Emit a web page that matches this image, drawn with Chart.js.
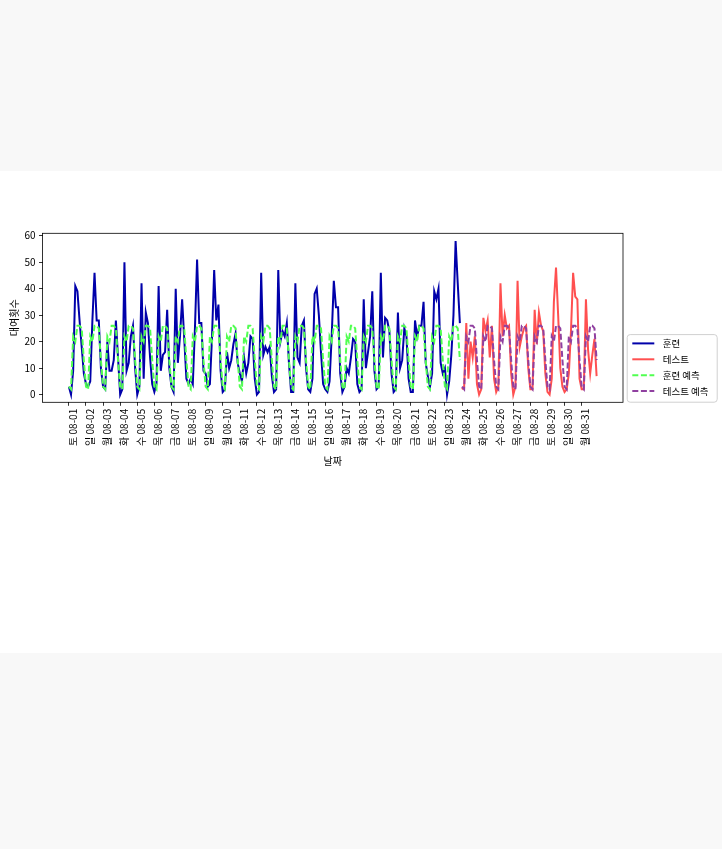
<!DOCTYPE html>
<html>
<head>
<meta charset="utf-8">
<script src="https://cdn.jsdelivr.net/npm/chart.js@4.4.1/dist/chart.umd.min.js"></script>
<style>
  html, body { margin: 0; padding: 0; background: #f8f8f8; }
  #band { position: absolute; left: 0; top: 171px; width: 722px; height: 482px; background: #fff; }
  canvas { display: block; }
</style>
</head>
<body>
<div id="band"><canvas id="chart" width="722" height="482"></canvas></div>
<script>
// 3-hourly rentals, August 2015 (8 samples per day)
const tickLabels = [
    "토 08-01", "일 08-02", "월 08-03", "화 08-04", "수 08-05", "목 08-06", "금 08-07",
    "토 08-08", "일 08-09", "월 08-10", "화 08-11", "수 08-12", "목 08-13", "금 08-14",
    "토 08-15", "일 08-16", "월 08-17", "화 08-18", "수 08-19", "목 08-20", "금 08-21",
    "토 08-22", "일 08-23", "월 08-24", "화 08-25", "수 08-26", "목 08-27", "금 08-28",
    "토 08-29", "일 08-30", "월 08-31"
];

const trainCounts = [
    3, 0, 9, 41, 39, 28, 18, 8,
    4, 3, 5, 28, 46, 28, 28, 10,
    3, 2, 20, 9, 9, 13, 28, 14,
    0, 2, 50, 9, 12, 22, 26, 10,
    0, 3, 42, 6, 31, 27, 14, 4,
    1, 4, 41, 9, 15, 16, 32, 10,
    3, 1, 40, 12, 22, 36, 21, 6,
    4, 6, 4, 25, 51, 27, 27, 9,
    8, 3, 4, 22, 47, 28, 34, 9,
    1, 2, 16, 10, 13, 19, 23, 12,
    8, 5, 14, 8, 12, 22, 21, 6,
    0, 1, 46, 15, 18, 16, 18, 7,
    1, 2, 47, 20, 24, 22, 27, 12,
    1, 1, 42, 14, 12, 26, 28, 10,
    2, 1, 6, 38, 40, 30, 16, 4,
    2, 1, 5, 22, 43, 33, 33, 8,
    1, 3, 10, 8, 14, 21, 20, 4,
    1, 2, 36, 10, 16, 22, 39, 9,
    2, 3, 46, 14, 29, 28, 24, 8,
    1, 2, 31, 10, 13, 25, 22, 6,
    1, 1, 28, 22, 26, 26, 35, 12,
    7, 3, 8, 39, 36, 40, 12, 8,
    10, 0, 5, 15, 30, 58, 42, 27
];

const testCounts = [
    2, 3, 27, 6, 20, 14, 22, 4,
    0, 2, 29, 24, 28, 14, 26, 6,
    1, 3, 42, 22, 30, 25, 26, 8,
    0, 3, 43, 18, 22, 25, 26, 10,
    2, 2, 32, 19, 31, 26, 24, 8,
    1, 0, 6, 35, 48, 30, 10, 3,
    1, 2, 8, 24, 46, 37, 36, 6,
    2, 2, 36, 17, 8, 15, 21, 7
];

const trainPred = [
    3, 2, 22, 20, 26, 26, 25, 13,
    3, 2, 22, 20, 26, 26, 25, 13,
    3, 2, 22, 20, 26, 26, 25, 13,
    3, 2, 22, 20, 26, 26, 25, 13,
    3, 2, 22, 20, 26, 26, 25, 13,
    3, 2, 22, 20, 26, 26, 25, 13,
    3, 2, 22, 20, 26, 26, 25, 13,
    3, 2, 22, 20, 26, 26, 25, 13,
    3, 2, 22, 20, 26, 26, 25, 13,
    3, 2, 22, 20, 26, 26, 25, 13,
    3, 2, 22, 20, 26, 26, 25, 13,
    3, 2, 22, 20, 26, 26, 25, 13,
    3, 2, 22, 20, 26, 26, 25, 13,
    3, 2, 22, 20, 26, 26, 25, 13,
    3, 2, 22, 20, 26, 26, 25, 13,
    3, 2, 22, 20, 26, 26, 25, 13,
    3, 2, 22, 20, 26, 26, 25, 13,
    3, 2, 22, 20, 26, 26, 25, 13,
    3, 2, 22, 20, 26, 26, 25, 13,
    3, 2, 22, 20, 26, 26, 25, 13,
    3, 2, 22, 20, 26, 26, 25, 13,
    3, 2, 22, 20, 26, 26, 25, 13,
    3, 2, 22, 20, 26, 26, 25, 13
];

const testPred = [
    3, 2, 22, 20, 26, 26, 25, 13,
    3, 2, 22, 20, 26, 26, 25, 13,
    3, 2, 22, 20, 26, 26, 25, 13,
    3, 2, 22, 20, 26, 26, 25, 13,
    3, 2, 22, 20, 26, 26, 25, 13,
    3, 2, 22, 20, 26, 26, 25, 13,
    3, 2, 22, 20, 26, 26, 25, 13,
    3, 2, 22, 20, 26, 26, 25, 13
];

const yTicks = [0, 10, 20, 30, 40, 50, 60];
const samplesPerDay = 8;

const KFONT = "'Noto Sans CJK KR', 'DejaVu Sans', sans-serif";

function toPoints(values, start) {
    return values.map((v, i) => ({ x: start + i, y: v }));
}

const nTrain = trainCounts.length;
const nAll = nTrain + testCounts.length;
const xPad = (nAll - 1) * 0.05;
const yMax = Math.max(...trainCounts, ...testCounts);
const yPad = yMax * 0.05;

// frame around the plot area (all four spines)
const framePlugin = {
    id: "frame",
    afterDatasetsDraw(chart) {
        const a = chart.chartArea;
        const ctx = chart.ctx;
        ctx.save();
        ctx.strokeStyle = "#000";
        ctx.lineWidth = 0.8;
        ctx.strokeRect(a.left, a.top, a.right - a.left, a.bottom - a.top);
        ctx.restore();
    }
};

// legend outside on the right, lower edge level with the plot bottom
const legendPlugin = {
    id: "sideLegend",
    afterDraw(chart) {
        const ctx = chart.ctx;
        const a = chart.chartArea;
        const sets = chart.data.datasets;
        const x0 = a.right + 3.7, w = 90, rowH = 15.9;
        const h = rowH * sets.length + 4;
        const y0 = a.bottom - h - 0.6;
        ctx.save();
        ctx.beginPath();
        ctx.roundRect(x0 + 0.5, y0 + 0.5, w, h, 3);
        ctx.fillStyle = "rgba(255,255,255,0.8)";
        ctx.fill();
        ctx.strokeStyle = "#d0d0d0";
        ctx.lineWidth = 1;
        ctx.stroke();
        ctx.font = "9.5px " + KFONT;
        ctx.textBaseline = "middle";
        sets.forEach((ds, i) => {
            const cy = y0 + 9.3 + i * rowH;
            ctx.beginPath();
            ctx.setLineDash(ds.borderDash || []);
            ctx.strokeStyle = ds.borderColor;
            ctx.lineWidth = ds.borderWidth;
            ctx.moveTo(x0 + 5.6, cy);
            ctx.lineTo(x0 + 27.6, cy);
            ctx.stroke();
            ctx.setLineDash([]);
            ctx.fillStyle = "#000";
            ctx.fillText(ds.label, x0 + 36, cy);
        });
        ctx.restore();
    }
};

new Chart(document.getElementById("chart").getContext("2d"), {
    type: "line",
    data: {
        datasets: [
            { label: "훈련", data: toPoints(trainCounts, 0), borderColor: "#0000aa", borderWidth: 2, order: 2 },
            { label: "테스트", data: toPoints(testCounts, nTrain), borderColor: "#ff5050", borderWidth: 2, order: 2 },
            { label: "훈련 예측", data: toPoints(trainPred, 0), borderColor: "#50ff50", borderWidth: 2, borderDash: [6, 2.6], order: 1 },
            { label: "테스트 예측", data: toPoints(testPred, nTrain), borderColor: "#9040a0", borderWidth: 2, borderDash: [6, 2.6], order: 0 }
        ]
    },
    options: {
        responsive: false,
        animation: false,
        events: [],
        layout: { padding: { left: 0, top: 62.3, right: 99, bottom: 186 } },
        elements: {
            point: { radius: 0 },
            line: { tension: 0, fill: false }
        },
        plugins: {
            legend: { display: false },
            tooltip: { enabled: false }
        },
        scales: {
            x: {
                type: "linear",
                min: -xPad,
                max: nAll - 1 + xPad,
                afterFit: function(scale) { scale.height = 64.7; },
                afterBuildTicks: function(scale) {
                    scale.ticks = tickLabels.map((_, i) => ({ value: i * samplesPerDay }));
                },
                ticks: {
                    autoSkip: false,
                    minRotation: 90,
                    maxRotation: 90,
                    padding: 3,
                    labelOffset: 4,
                    color: "#000",
                    font: { family: KFONT, size: 10 },
                    callback: function(value, index) { return tickLabels[index]; }
                },
                grid: { display: true, drawOnChartArea: false, drawTicks: true, tickLength: 3.5, color: "#000", lineWidth: 0.8 },
                border: { display: false },
                title: { display: true, text: "날짜", color: "#000", padding: 0, font: { family: KFONT, size: 10 } }
            },
            y: {
                type: "linear",
                min: -yPad,
                max: yMax + yPad,
                afterFit: function(scale) { scale.width = 42.5; },
                afterBuildTicks: function(scale) {
                    scale.ticks = yTicks.map(v => ({ value: v }));
                },
                ticks: {
                    padding: 3.5,
                    color: "#000",
                    font: { family: KFONT, size: 10 }
                },
                grid: { display: true, drawOnChartArea: false, drawTicks: true, tickLength: 3.5, color: "#000", lineWidth: 0.8 },
                border: { display: false },
                title: { display: true, text: "대여횟수", color: "#000", padding: { top: 8, bottom: 0 }, font: { family: KFONT, size: 10 } }
            }
        }
    },
    plugins: [framePlugin, legendPlugin]
});
</script>
</body>
</html>
